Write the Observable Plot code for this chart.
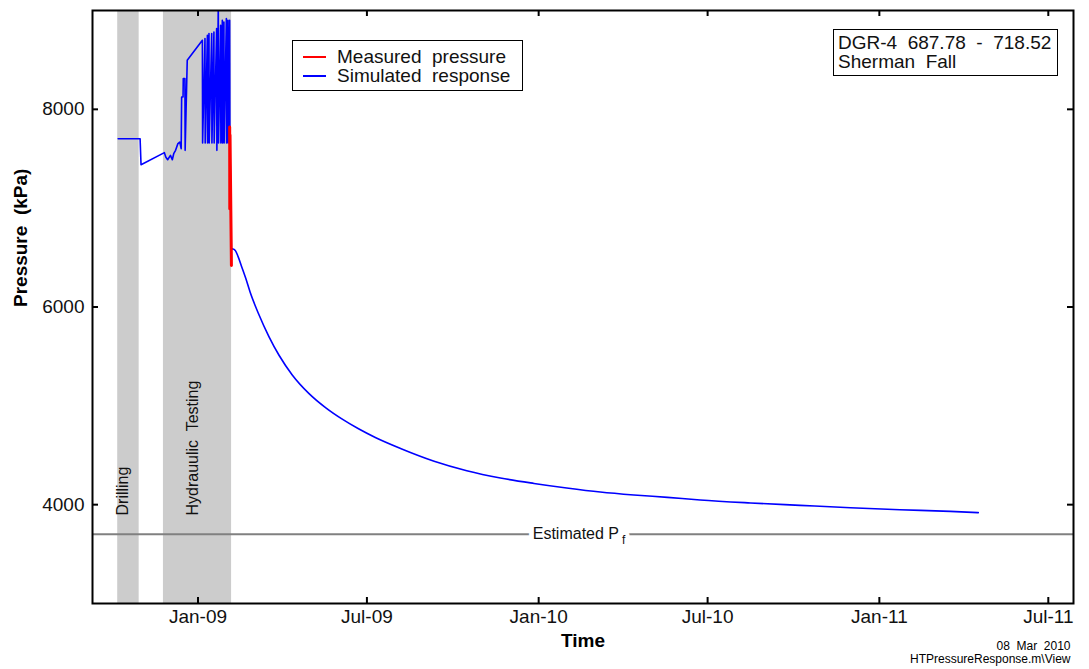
<!DOCTYPE html>
<html><head><meta charset="utf-8">
<script src="https://cdn.jsdelivr.net/npm/d3@7"></script>
<script src="https://cdn.jsdelivr.net/npm/@observablehq/plot@0.6"></script>
<style>
body{margin:0;background:#fff;font-family:"Liberation Sans",Arial,sans-serif;}
#wrap{position:relative;width:1089px;height:669px;}
.box{position:absolute;border:1.5px solid #000;background:#fff;box-sizing:border-box;font-size:19px;white-space:pre;color:#111;}
.box .t{position:absolute;line-height:19px;}
.box .ln{position:absolute;height:2px;width:23px;}
</style></head><body>
<div id="wrap"></div>
<script>
// ---- data ----
const xDomain = ["2008-09-10", "2011-07-28"];
const yDomain = [3000, 9000];
const xTickDates = ["2009-01-01","2009-07-01","2010-01-01","2010-07-01","2011-01-01","2011-07-01"];
const yTicks = [4000, 6000, 8000];

const bandNames = ["Drilling", "Hydrauulic  Testing"];
const bandStart = ["2008-10-07", "2008-11-25"];
const bandEnd = ["2008-10-30", "2009-02-06"];

const estimatedPf = 3700;

// simulated response during drilling and hydraulic testing
const testTimes = [
  "2008-10-07T12","2008-10-31T00","2008-11-01T00","2008-11-26T00","2008-11-27T12","2008-11-29T12",
  "2008-12-02T12","2008-12-04T12","2008-12-06T00","2008-12-08T00","2008-12-10T12","2008-12-12T12",
  "2008-12-14T00","2008-12-14T12","2008-12-16T00","2008-12-16T06","2008-12-18T00","2008-12-18T06","2008-12-20T12",
  "2009-01-05T17","2009-01-05T23","2009-01-08T12","2009-01-08T18","2009-01-11T02","2009-01-11T08",
  "2009-01-12T19","2009-01-13T01","2009-01-15T17","2009-01-15T23","2009-01-18T02","2009-01-18T08",
  "2009-01-21T00","2009-01-21T06","2009-01-22T19","2009-01-23T01","2009-01-25T07","2009-01-25T13",
  "2009-01-27T02","2009-01-27T08","2009-01-28T19","2009-01-29T01","2009-01-31T10","2009-01-31T16",
  "2009-02-02T02","2009-02-02T08","2009-02-03T22","2009-02-04T04","2009-02-05T18","2009-02-06T18"
];
const testValues = [
  7703,7703,7440,7562,7517,7490,
  7534,7490,7551,7585,7653,7669,
  7602,8125,8125,8311,8311,7585,8496,
  8699,7660,8716,7660,8749,7660,
  8767,7660,8767,7660,8783,7660,
  8817,7585,9100,7660,8851,7660,
  8901,7660,8884,7660,8918,7660,
  8901,7660,8901,7737,6589,6589
];

// simulated recovery
const recoveryTimes = [
  "2009-02-06T18","2009-02-10T00","2009-02-13T00","2009-02-17T00","2009-02-21T00","2009-02-26T00",
  "2009-03-07T00","2009-03-18T00","2009-03-29T00","2009-04-12T00","2009-04-30T00","2009-05-18T00",
  "2009-06-05T00","2009-06-22T00","2009-07-10T00","2009-08-06T00","2009-09-11T00","2009-10-16T00",
  "2009-11-21T00","2009-12-27T00","2010-01-31T00","2010-03-08T00","2010-04-13T00","2010-05-19T00",
  "2010-06-23T00","2010-08-16T00","2010-10-08T00","2010-12-01T00","2011-01-23T00","2011-03-18T00",
  "2011-04-17T00"
];
const recoveryValues = [
  6589,6572,6510,6403,6295,6147,
  5929,5701,5509,5313,5124,4980,
  4863,4768,4680,4569,4440,4344,
  4270,4215,4169,4128,4098,4074,
  4047,4017,3993,3969,3949,3932,
  3919
];

// measured pressure
const measuredTimes = ["2009-02-03T23","2009-02-04T02","2009-02-04T08","2009-02-05T20"];
const measuredValues = [7820, 6995, 7740, 6420];

// ---- build ----
const parseH = d3.utcParse("%Y-%m-%dT%H");
const parseD = d3.utcParse("%Y-%m-%d");
const toDate = s => s.length > 10 ? parseH(s) : parseD(s);

const test = testTimes.map((t, i) => ({date: toDate(t), value: testValues[i]}));
const recovery = recoveryTimes.map((t, i) => ({date: toDate(t), value: recoveryValues[i]}));
const measured = measuredTimes.map((t, i) => ({date: toDate(t), value: measuredValues[i]}));
const bands = bandNames.map((n, i) => ({name: n, start: parseD(bandStart[i]), end: parseD(bandEnd[i])}));
const xTicks = xTickDates.map(parseD);

const font = "Liberation Sans, Arial, sans-serif";
const W = 1089, H = 669, mL = 92, mR = 16, mT = 10, mB = 66;
const innerW = W - mL - mR, innerH = H - mT - mB, tickLen = 6;

const chart = Plot.plot({
  width: W, height: H,
  marginLeft: mL, marginRight: mR, marginTop: mT, marginBottom: mB,
  style: {fontFamily: font, fontSize: "19px", color: "#111", background: "white", overflow: "visible"},
  x: {type: "utc", domain: [parseD(xDomain[0]), parseD(xDomain[1])]},
  y: {domain: yDomain},
  marks: [
    Plot.rect(bands, {x1: "start", x2: "end", fill: "#cccccc"}),
    Plot.ruleY([estimatedPf], {stroke: "#808080", strokeWidth: 2}),
    Plot.text(["Estimated P"], {y: () => estimatedPf, frameAnchor: "middle", textAnchor: "end", dx: 36, fontSize: 16, fill: "#111", stroke: "white", strokeWidth: 10, paintOrder: "stroke"}),
    Plot.text(["f"], {y: () => estimatedPf, frameAnchor: "middle", textAnchor: "start", dx: 39, dy: 6, fontSize: 12, fill: "#111", stroke: "white", strokeWidth: 8, paintOrder: "stroke"}),
    Plot.text(bands, {x: d => new Date((+d.start + +d.end) / 2), text: "name", rotate: -90, textAnchor: "start", frameAnchor: "bottom", dy: -88, fontSize: 16, fill: "#111", style: "white-space:pre"}),
    Plot.line(test, {x: "date", y: "value", stroke: "#0000ff", strokeWidth: 1.6, clip: true}),
    Plot.line(recovery, {x: "date", y: "value", stroke: "#0000ff", strokeWidth: 1.6, curve: "monotone-x"}),
    Plot.line(measured, {x: "date", y: "value", stroke: "#ff0000", strokeWidth: 3}),
    // inward ticks on all four sides
    Plot.tickX(xTicks, {x: d => d, insetTop: innerH - tickLen, stroke: "#000", strokeWidth: 2}),
    Plot.tickX(xTicks, {x: d => d, insetBottom: innerH - tickLen, stroke: "#000", strokeWidth: 2}),
    Plot.tickY(yTicks, {y: d => d, insetRight: innerW - tickLen, stroke: "#000", strokeWidth: 2}),
    Plot.tickY(yTicks, {y: d => d, insetLeft: innerW - tickLen, stroke: "#000", strokeWidth: 2}),
    Plot.axisX(xTicks, {anchor: "bottom", tickSize: 0, tickPadding: 6, tickFormat: d3.utcFormat("%b-%y"), label: null}),
    Plot.axisY(yTicks, {anchor: "left", tickSize: 0, tickPadding: 8, tickFormat: d => String(d), label: null}),
    Plot.frame({stroke: "black", strokeWidth: 2}),
    Plot.text(["Time"], {frameAnchor: "bottom", dy: 43, fontWeight: "bold", fontSize: 19, fill: "#000"}),
    Plot.text(["Pressure  (kPa)"], {frameAnchor: "left", dx: -72, rotate: -90, fontWeight: "bold", fontSize: 19, fill: "#000"}),
    Plot.text(["08  Mar  2010"], {frameAnchor: "bottom-right", dx: -3, dy: 46, textAnchor: "end", fontSize: 12, fill: "#000"}),
    Plot.text(["HTPressureResponse.m\\View"], {frameAnchor: "bottom-right", dx: -3, dy: 59, textAnchor: "end", fontSize: 12, fill: "#000"})
  ]
});

const wrap = document.getElementById("wrap");
wrap.appendChild(chart);

// legend
const legendItems = [
  {label: "Measured  pressure", color: "#ff0000"},
  {label: "Simulated  response", color: "#0000ff"}
];
const legend = document.createElement("div");
legend.className = "box";
Object.assign(legend.style, {left: "292px", top: "40px", width: "231px", height: "51px"});
legendItems.forEach((it, i) => {
  const ln = document.createElement("div");
  ln.className = "ln";
  ln.style.left = "10px";
  ln.style.top = (15 + i * 19) + "px";
  ln.style.background = it.color;
  const t = document.createElement("div");
  t.className = "t";
  t.textContent = it.label;
  t.style.left = "44px";
  t.style.top = (6 + i * 19) + "px";
  legend.appendChild(ln); legend.appendChild(t);
});
wrap.appendChild(legend);

// info box
const infoLines = ["DGR-4  687.78  -  718.52", "Sherman  Fall"];
const info = document.createElement("div");
info.className = "box";
Object.assign(info.style, {left: "833px", top: "29px", width: "225px", height: "47px"});
infoLines.forEach((s, i) => {
  const t = document.createElement("div");
  t.className = "t";
  t.textContent = s;
  t.style.left = "4px";
  t.style.top = (3 + i * 19) + "px";
  info.appendChild(t);
});
wrap.appendChild(info);
</script>
</body></html>
